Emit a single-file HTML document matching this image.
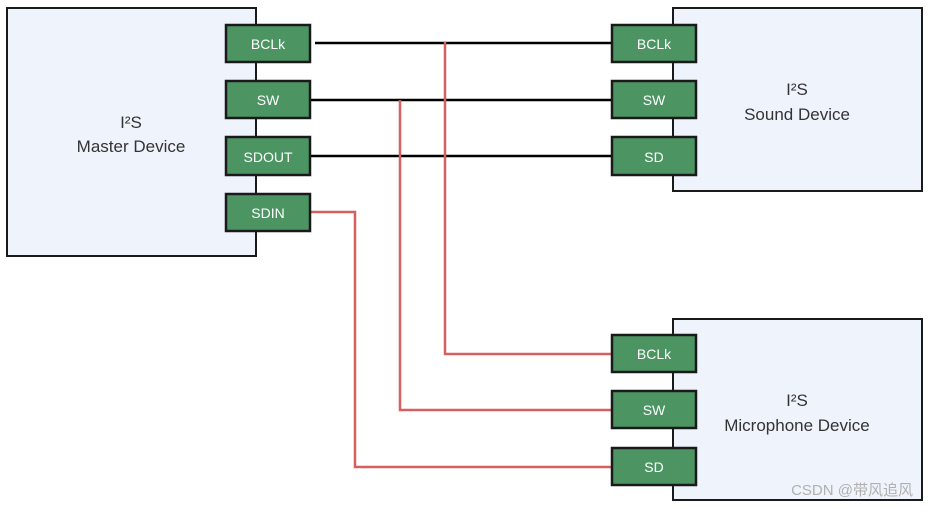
<!DOCTYPE html>
<html><head><meta charset="utf-8"><style>
body{margin:0;background:#fff;}
svg text{font-family:"Liberation Sans",sans-serif;}
</style></head><body>
<svg width="928" height="507" viewBox="0 0 928 507" xmlns="http://www.w3.org/2000/svg">
<g stroke="#1a1a1a" stroke-width="2" fill="#eff3fc">
<rect x="7" y="8" width="249" height="248"/>
<rect x="673" y="8" width="249" height="183"/>
<rect x="673" y="319" width="249" height="181"/>
</g>
<g stroke="#000" stroke-width="2.5" fill="none">
<line x1="315" y1="43" x2="612" y2="43"/>
<line x1="310" y1="100" x2="612" y2="100"/>
<line x1="310" y1="156" x2="612" y2="156"/>
</g>
<g stroke="#d65f5f" stroke-width="2.5" fill="none">
<polyline points="445,42 445,354 612,354"/>
<polyline points="400,100 400,410 612,410"/>
<polyline points="310,212 355,212 355,467 612,467"/>
</g>
<g stroke="#1a1a1a" stroke-width="2.5" fill="#4c9563">
<rect x="226" y="25" width="84" height="37"/>
<rect x="226" y="81" width="84" height="37"/>
<rect x="226" y="137" width="84" height="38"/>
<rect x="226" y="194" width="84" height="37"/>
<rect x="612" y="25" width="84" height="37"/>
<rect x="612" y="81" width="84" height="37"/>
<rect x="612" y="137" width="84" height="38"/>
<rect x="612" y="335" width="84" height="37"/>
<rect x="612" y="391" width="84" height="37"/>
<rect x="612" y="448" width="84" height="37"/>
</g>
<g fill="#fff" font-size="14" text-anchor="middle">
<text x="268" y="49">BCLk</text>
<text x="268" y="105">SW</text>
<text x="268" y="162">SDOUT</text>
<text x="268" y="218">SDIN</text>
<text x="654" y="49">BCLk</text>
<text x="654" y="105">SW</text>
<text x="654" y="162">SD</text>
<text x="654" y="359">BCLk</text>
<text x="654" y="415">SW</text>
<text x="654" y="472">SD</text>
</g>
<g fill="#333" font-size="17" text-anchor="middle">
<text x="131" y="128">I²S</text>
<text x="131" y="152">Master Device</text>
<text x="797" y="95">I²S</text>
<text x="797" y="120">Sound Device</text>
<text x="797" y="406">I²S</text>
<text x="797" y="431">Microphone Device</text>
</g>
<text x="913" y="495" fill="#b0b0b0" font-size="15" text-anchor="end" font-family="'Liberation Sans','Noto Sans CJK SC',sans-serif">CSDN @带风追风</text>
</svg>
</body></html>
